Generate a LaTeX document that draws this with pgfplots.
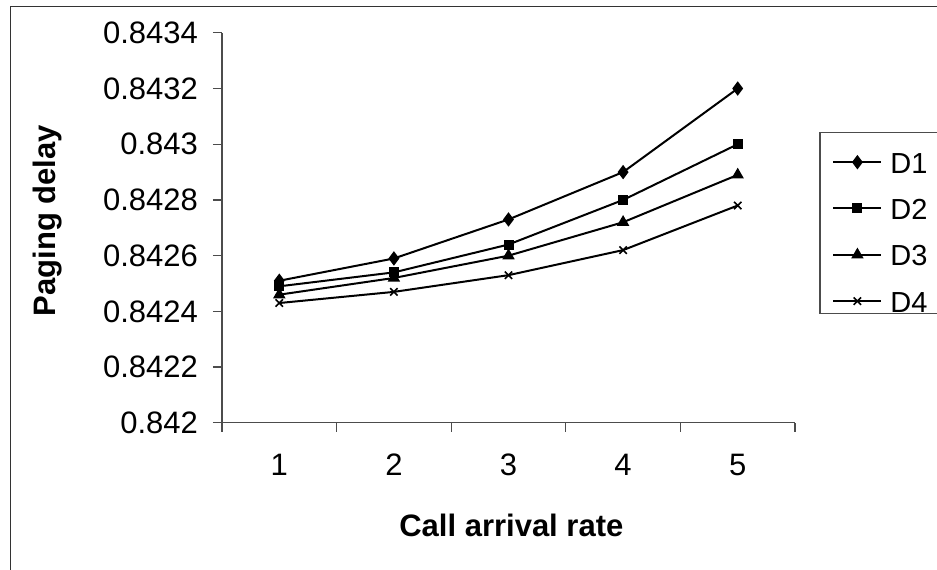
\documentclass[border=0pt]{standalone}
\usepackage{fontspec}
\setmainfont{Liberation Sans}
\usepackage{pgfplots}
\pgfplotsset{compat=1.18}
\newcommand\tickfont{\fontsize{15.5}{18}\selectfont}
\newcommand\legfont{\fontsize{14.5}{17}\selectfont}

\begin{document}
\begin{tikzpicture}
% page: 937 x 569 px, 1px = 0.5pt
\useasboundingbox (0pt,0pt) rectangle (468.5pt,-284.5pt);
\draw[black!80, line width=0.6pt] (5.4pt,-290pt) -- (5.4pt,-3.4pt) -- (480pt,-3.4pt);
\begin{axis}[
  at={(111pt,-211.4pt)}, anchor=south west,
  scale only axis, width=286.5pt, height=195pt,
  xmin=0.5, xmax=5.5, ymin=0.842, ymax=0.8434,
  axis x line*=bottom, axis y line*=left,
  axis line style={black!70, line width=0.6pt},
  xtick={0.5,1.5,2.5,3.5,4.5,5.5},
  xticklabels={\tickfont 1,\tickfont 2,\tickfont 3,\tickfont 4,\tickfont 5,{}},
  xticklabel style={xshift=28.65pt, yshift=-7.5pt},
  ytick={0.842,0.8422,0.8424,0.8426,0.8428,0.843,0.8432,0.8434},
  yticklabels={\tickfont 0.842,\tickfont 0.8422,\tickfont 0.8424,\tickfont 0.8426,\tickfont 0.8428,\tickfont 0.843,\tickfont 0.8432,\tickfont 0.8434},
  yticklabel style={xshift=-4pt},
  tick align=outside, major tick length=4.5pt,
  tick style={black!70, line width=0.6pt},
  xlabel={\tickfont\bfseries Call arrival rate},
  ylabel={\tickfont\bfseries Paging delay},
  xlabel style={at={(axis description cs:0.505,-0.262)}, anchor=center},
  ylabel style={at={(axis description cs:-0.305,0.518)}, anchor=center, rotate=0},
  legend style={at={(axis description cs:1.0646,0.6975)}, anchor=north west,
    draw=none, fill=none, inner sep=0pt, row sep=12.15pt,
    font=\legfont, nodes={inner xsep=4pt, inner ysep=0pt, text height=11pt, text depth=0pt}},
  legend cell align=left,
  legend image code/.code={\draw[mark repeat=2,mark phase=2] plot coordinates {(0pt,0pt) (12pt,0pt) (24pt,0pt)};},
  every axis plot/.append style={black, line width=1pt},
  clip=false,
]
\addplot[mark=diamond*, mark size=2.8pt] coordinates {(1,0.84251) (2,0.84259) (3,0.84273) (4,0.84290) (5,0.84320)};
\addlegendentry{\legfont D1}
\addplot[mark=square*, mark size=2pt] coordinates {(1,0.84249) (2,0.84254) (3,0.84264) (4,0.84280) (5,0.84300)};
\addlegendentry{\legfont D2}
\addplot[mark=triangle*, mark size=2.6pt] coordinates {(1,0.84246) (2,0.84252) (3,0.84260) (4,0.84272) (5,0.84289)};
\addlegendentry{\legfont D3}
\addplot[mark=x, mark size=2.6pt, mark options={line width=0.8pt}] coordinates {(1,0.84243) (2,0.84247) (3,0.84253) (4,0.84262) (5,0.84278)};
\addlegendentry{\legfont D4}
% legend frame (runs past the right edge of the page, as in the reference)
\draw[black!70, line width=0.6pt] (axis description cs:1.0436,0.7436) rectangle (axis description cs:1.2705,0.2795);
\end{axis}
\end{tikzpicture}
\end{document}
